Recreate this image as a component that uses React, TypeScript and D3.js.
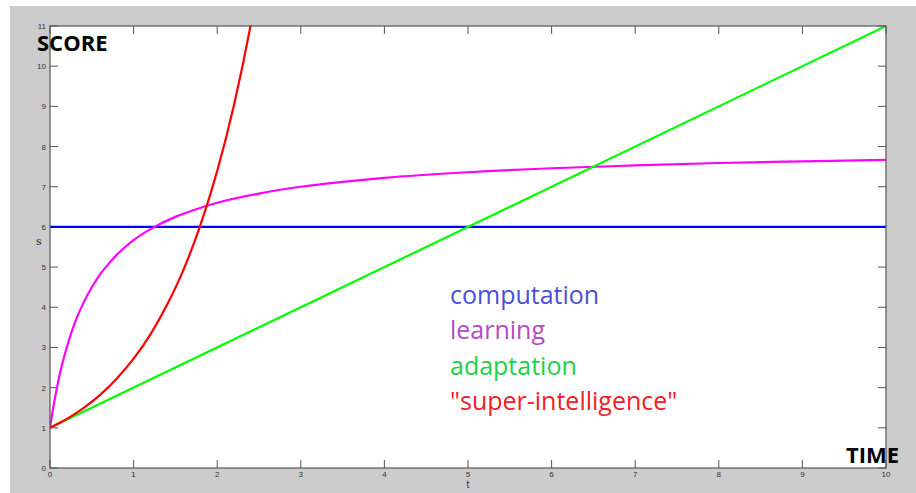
import React from "react";
import * as d3 from "d3";

const W = 916;
const H = 493;

const xTicks = [0, 1, 2, 3, 4, 5, 6, 7, 8, 9, 10];
const yTicks = [0, 1, 2, 3, 4, 5, 6, 7, 8, 9, 10, 11];

// computation: constant
const compT = [0, 10];
const compS = [6, 6];

// adaptation: straight line
const adaptT = [0, 10];
const adaptS = [1, 11];

// learning: fast rise, saturating
const learnT = [0, 0.01, 0.02, 0.035, 0.05, 0.075, 0.1, 0.15, 0.2, 0.3, 0.4, 0.5, 0.6, 0.7, 0.8, 0.9, 1.0, 1.25, 1.5, 1.75, 2.0, 2.5, 3, 3.5, 4, 5, 6, 7, 8, 9, 10];
const learnS = [1, 1.14, 1.27, 1.46, 1.64, 1.91, 2.17, 2.62, 3.0, 3.63, 4.11, 4.5, 4.82, 5.08, 5.31, 5.5, 5.67, 6.0, 6.25, 6.44, 6.6, 6.83, 7.0, 7.12, 7.22, 7.36, 7.46, 7.53, 7.59, 7.63, 7.67];

// super-intelligence: explosive growth
const superT = [0, 0.2, 0.4, 0.6, 0.8, 1.0, 1.2, 1.4, 1.6, 1.8, 2.0, 2.2, 2.4, 2.5];
const superS = [1, 1.22, 1.49, 1.82, 2.23, 2.72, 3.32, 4.06, 4.95, 6.05, 7.39, 9.03, 11.02, 12.18];

const labels = ["computation", "learning", "adaptation", "\"super-intelligence\""];
const labelColors = ["#4a4fd6", "#b44cc4", "#1ed04a", "#f0202a"];

export default function App() {
  const left = 50, right = 886, top = 26, bottom = 468;
  const x = d3.scaleLinear().domain([0, 10]).range([left, right]);
  const y = d3.scaleLinear().domain([0, 11]).range([bottom, top]);

  const mk = (ts: number[], ss: number[], curve: any) =>
    d3.line<number>().x((_, i) => x(ts[i])).y((_, i) => y(ss[i])).curve(curve)(ts.map((_, i) => i)) || "";

  const series = [
    { d: mk(compT, compS, d3.curveLinear), c: "#0000ff" },
    { d: mk(learnT, learnS, d3.curveMonotoneX), c: "#ff00ff" },
    { d: mk(adaptT, adaptS, d3.curveLinear), c: "#00ff00" },
    { d: mk(superT, superS, d3.curveMonotoneX), c: "#ff0000" },
  ];

  const tl = 8;
  const axisColor = "#555";
  const tickFont = "Liberation Sans, Arial, sans-serif";

  return (
    <svg width={W} height={H} style={{ position: "absolute", left: 0, top: 0 }}>
      <rect x={0} y={0} width={W} height={H} fill="#ffffff" />
      <rect x={10} y={6} width={W - 10} height={H - 6} fill="#cccccc" />
      <rect x={left} y={top} width={right - left} height={bottom - top} fill="#ffffff" />
      <defs>
        <clipPath id="plot">
          <rect x={left} y={top - 1} width={right - left + 1} height={bottom - top + 1} />
        </clipPath>
      </defs>
      {xTicks.map((t) => (
        <g key={"x" + t}>
          <line x1={x(t)} x2={x(t)} y1={bottom} y2={bottom - tl} stroke={axisColor} strokeWidth={1} />
          <line x1={x(t)} x2={x(t)} y1={top} y2={top + tl} stroke={axisColor} strokeWidth={1} />
          <text x={x(t)} y={bottom + 9} fontSize={8} fill="#333" textAnchor="middle" fontFamily={tickFont}>{t}</text>
        </g>
      ))}
      {yTicks.map((t) => (
        <g key={"y" + t}>
          <line x1={left} x2={left + tl} y1={y(t)} y2={y(t)} stroke={axisColor} strokeWidth={1} />
          <line x1={right} x2={right - tl} y1={y(t)} y2={y(t)} stroke={axisColor} strokeWidth={1} />
          <text x={left - 4} y={y(t) + 3} fontSize={8} fill="#333" textAnchor="end" fontFamily={tickFont}>{t}</text>
        </g>
      ))}
      <g clipPath="url(#plot)">
        {series.map((s, i) => (
          <path key={i} d={s.d} fill="none" stroke={s.c} strokeWidth={2.2} />
        ))}
      </g>
      <rect x={left} y={top} width={right - left} height={bottom - top} fill="none" stroke={axisColor} strokeWidth={1.2} />
      <text x={36} y={245} fontSize={11} fill="#222" fontFamily="DejaVu Serif, serif">s</text>
      <text x={468} y={488} fontSize={10} fill="#333" textAnchor="middle" fontFamily={tickFont}>t</text>
      <text x={37} y={51} fontSize={22} fontWeight="bold" fill="#000" fontFamily="Open Sans, sans-serif">SCORE</text>
      <text x={899} y={463} fontSize={22} fontWeight="bold" fill="#000" textAnchor="end" fontFamily="Open Sans, sans-serif">TIME</text>
      {labels.map((l, i) => (
        <text key={l} x={450} y={304 + i * 35.3} fontSize={25} fill={labelColors[i]} fontFamily="Open Sans, sans-serif">{l}</text>
      ))}
    </svg>
  );
}
